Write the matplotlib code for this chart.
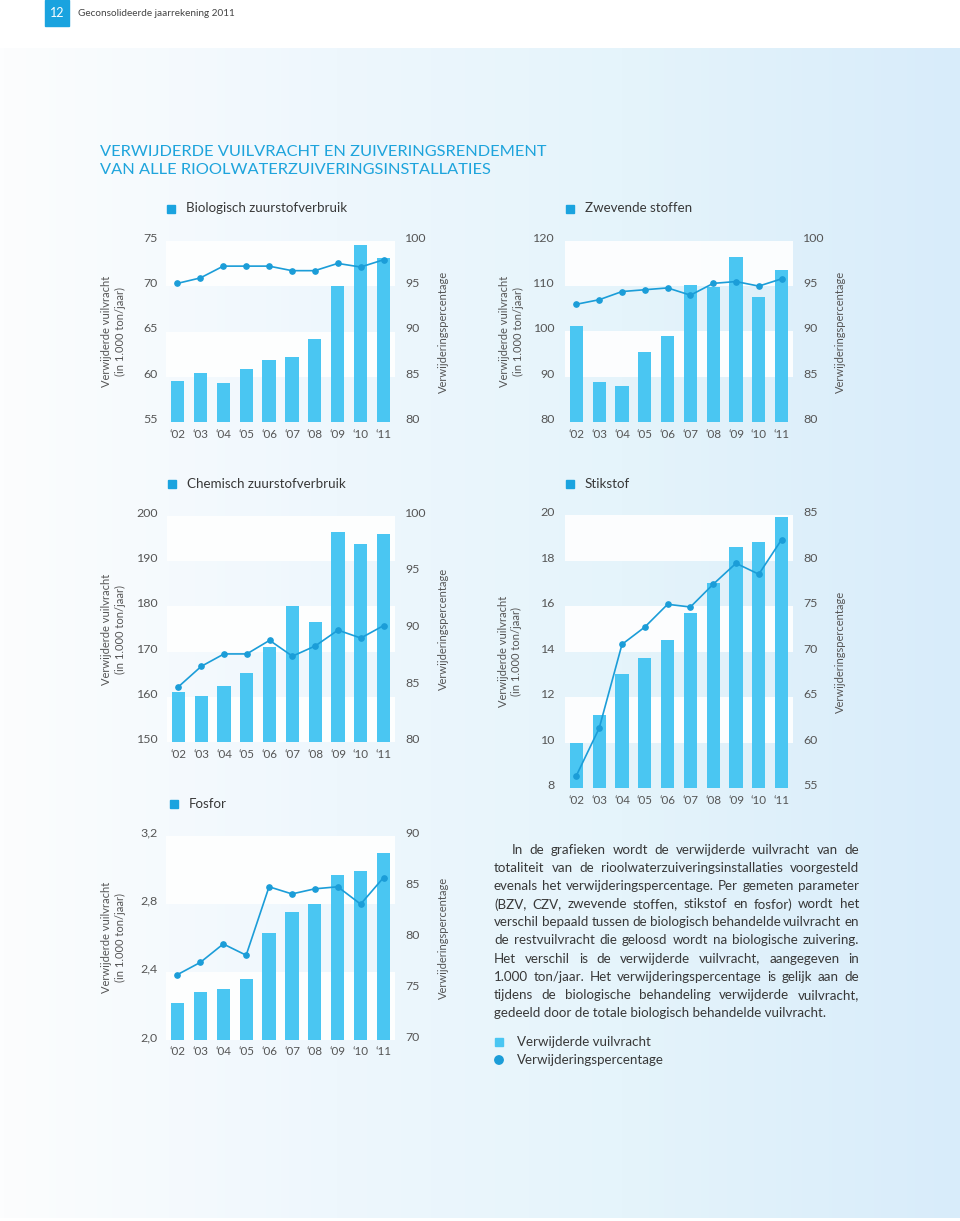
import numpy as np
import matplotlib
matplotlib.use("Agg")
import matplotlib.pyplot as plt
from matplotlib.colors import LinearSegmentedColormap
from matplotlib.patches import Rectangle, Circle
from matplotlib.transforms import ScaledTranslation

plt.rcParams['font.family'] = ['Lato', 'DejaVu Sans']

# ---------------------- DATA ------------------------

years = ["‘02", "‘03", "‘04", "‘05", "‘06", "‘07", "‘08", "‘09", "‘10", "‘11"]

# verwijderde vuilvracht (1.000 ton/jaar) and verwijderingspercentage (%)
bzv_vracht = [59.5, 60.4, 59.3, 60.9, 61.9, 62.2, 64.2, 70.0, 74.5, 73.1]
bzv_pct    = [95.3, 95.9, 97.2, 97.2, 97.2, 96.7, 96.7, 97.5, 97.1, 97.9]

zs_vracht  = [101.2, 88.9, 88.1, 95.4, 98.9, 110.2, 109.9, 116.4, 107.7, 113.5]
zs_pct     = [93.0, 93.5, 94.4, 94.6, 94.8, 94.0, 95.3, 95.5, 95.0, 95.8]

czv_vracht = [161.0, 160.3, 162.4, 165.3, 171.1, 180.1, 176.5, 196.5, 193.8, 196.0]
czv_pct    = [84.9, 86.7, 87.8, 87.8, 89.0, 87.6, 88.5, 89.9, 89.2, 90.3]

n_vracht   = [10.0, 11.2, 13.0, 13.7, 14.5, 15.7, 17.0, 18.6, 18.8, 19.9]
n_pct      = [56.4, 61.6, 70.8, 72.7, 75.2, 74.9, 77.4, 79.7, 78.5, 82.3]

p_vracht   = [2.215, 2.28, 2.30, 2.36, 2.63, 2.75, 2.80, 2.97, 2.99, 3.10]
p_pct      = [76.4, 77.6, 79.4, 78.3, 85.0, 84.3, 84.8, 85.0, 83.3, 85.9]

# axis ticks per chart
bzv_left,  bzv_right  = [55, 60, 65, 70, 75], [80, 85, 90, 95, 100]
zs_left,   zs_right   = [80, 90, 100, 110, 120], [80, 85, 90, 95, 100]
czv_left,  czv_right  = [150, 160, 170, 180, 190, 200], [80, 85, 90, 95, 100]
n_left,    n_right    = [8, 10, 12, 14, 16, 18, 20], [55, 60, 65, 70, 75, 80, 85]
p_left,    p_right    = [2.0, 2.4, 2.8, 3.2], [70, 75, 80, 85, 90]
p_left_labels = ["2,0", "2,4", "2,8", "3,2"]

paragraph = [
    "In de grafieken wordt de verwijderde vuilvracht van de",
    "totaliteit van de rioolwaterzuiveringsinstallaties voorgesteld",
    "evenals het verwijderingspercentage. Per gemeten parameter",
    "(BZV, CZV, zwevende stoffen, stikstof en fosfor) wordt het",
    "verschil bepaald tussen de biologisch behandelde vuilvracht en",
    "de restvuilvracht die geloosd wordt na biologische zuivering.",
    "Het verschil is de verwijderde vuilvracht, aangegeven in",
    "1.000 ton/jaar. Het verwijderingspercentage is gelijk aan de",
    "tijdens de biologische behandeling verwijderde vuilvracht,",
    "gedeeld door de totale biologisch behandelde vuilvracht.",
]

# ---------------------- STYLE ------------------------

BAR = '#4ac6f2'
LINE = '#1b9dd8'
MARK = '#1aa3df'
TICK = '#555555'
TEXT = '#383838'
TITLE = '#1ea4dc'

W, H = 960, 1221
fig = plt.figure(figsize=(W / 100, H / 100), dpi=100)
renderer = fig.canvas.get_renderer()

# page background in pixel coordinates
bg = fig.add_axes([0, 0, 1, 1])
bg.set_zorder(-1)
grad = LinearSegmentedColormap.from_list(
    'page', [(0, '#fcfdfe'), (0.35, '#eef7fd'), (0.65, '#e5f4fb'), (1, '#d8ecfa')])
bg.imshow(np.linspace(0, 1, 256)[None, :], cmap=grad, extent=[0, W, 1218, 48], aspect='auto')
bg.set_xlim(0, W)
bg.set_ylim(H, 0)
bg.axis('off')


def fit_size(s, width, **kw):
    t = bg.text(0, 0, s, fontsize=10, **kw)
    w = t.get_window_extent(renderer).width
    t.remove()
    return 10 * width / w


# ---------------------- HEADER + TITLE ------------------------

bg.add_patch(Rectangle((45, 0), 24, 26, color=MARK))
bg.text(57, 13, '12', color='white', ha='center', va='center', fontsize=9)
hs = fit_size('Geconsolideerde jaarrekening 2011', 157)
bg.text(78, 13, 'Geconsolideerde jaarrekening 2011', color='#444444', va='center', fontsize=hs)

ts = fit_size('VERWIJDERDE VUILVRACHT EN ZUIVERINGSRENDEMENT', 443)
bg.text(100, 152.5, 'VERWIJDERDE VUILVRACHT EN ZUIVERINGSRENDEMENT', color=TITLE,
        va='center', fontsize=ts)
bg.text(100, 170.5, 'VAN ALLE RIOOLWATERZUIVERINGSINSTALLATIES', color=TITLE,
        va='center', fontsize=ts)

# ---------------------- CHARTS ------------------------

tick_size = fit_size('200', 21.5)
xtick_size = fit_size('‘02', 16)
lab_size = fit_size('Verwijderingspercentage', 122)
leg_size = fit_size('Biologisch zuurstofverbruik', 162)
up = ScaledTranslation(0, 3.5 / 100, fig.dpi_scale_trans)


def chart(box, vracht, pct, lticks, rticks, title, leg_xy, lab_x, rlab_x,
          lpad=8, llabels=None):
    x0, x1, ytop, ybot = box
    ax = fig.add_axes([x0 / W, 1 - ybot / H, (x1 - x0) / W, (ybot - ytop) / H])
    ax.set_facecolor('none')
    xs = np.arange(len(years))
    ax.set_xlim(-0.5, len(years) - 0.5)
    ax.set_ylim(lticks[0], lticks[-1])

    # alternating white bands, starting white at the top
    for i in range(len(lticks) - 1):
        if i % 2 == 0:
            ax.axhspan(lticks[-2 - i], lticks[-1 - i], color='white', alpha=0.9, lw=0, zorder=0)

    ax.bar(xs, vracht, width=0.58, color=BAR, zorder=2)
    ax.set_yticks(lticks)
    ax.set_yticklabels(llabels if llabels else [str(t) for t in lticks])
    ax.set_xticks(xs)
    ax.set_xticklabels(years)
    ax.tick_params(axis='y', length=0, pad=lpad * 0.72, labelsize=tick_size, labelcolor=TICK)
    ax.tick_params(axis='x', length=0, pad=4.5, labelsize=xtick_size, labelcolor=TICK)

    ax2 = ax.twinx()
    ax2.set_ylim(rticks[0], rticks[-1])
    ax2.plot(xs, pct, color=LINE, lw=1.2, marker='o', ms=3.8, zorder=3)
    ax2.set_yticks(rticks)
    ax2.tick_params(axis='y', length=0, pad=10 * 0.72, labelsize=tick_size, labelcolor=TICK)

    for a in (ax, ax2):
        for s in a.spines.values():
            s.set_visible(False)
    for lab in ax.get_yticklabels() + ax2.get_yticklabels():
        lab.set_transform(lab.get_transform() + up)

    # legend title above the chart
    lx, ly = leg_xy
    bg.add_patch(Rectangle((lx, ly - 3.5), 7.5, 7.5, color=MARK))
    bg.text(lx + 19, ly, title, color=TEXT, va='center', fontsize=leg_size)

    # axis titles
    yc = (ytop + ybot) / 2
    bg.text(lab_x, yc, 'Verwijderde vuilvracht\n(in 1.000 ton/jaar)', rotation=90,
            ha='center', va='center', color=TICK, fontsize=lab_size, linespacing=1.3,
            multialignment='center')
    bg.text(rlab_x, yc, 'Verwijderingspercentage', rotation=90, ha='center', va='center',
            color=TICK, fontsize=lab_size)


chart((166, 395, 240.7, 422.3), bzv_vracht, bzv_pct, bzv_left, bzv_right,
      'Biologisch zuurstofverbruik', (167, 208.5), 113.5, 443)
chart((565, 793, 240.7, 422.3), zs_vracht, zs_pct, zs_left, zs_right,
      'Zwevende stoffen', (566, 208.5), 511.5, 840, lpad=10)
chart((167, 395, 515.7, 742.3), czv_vracht, czv_pct, czv_left, czv_right,
      'Chemisch zuurstofverbruik', (168, 483.5), 113.5, 443, lpad=8.7)
chart((565, 793, 515, 788.3), n_vracht, n_pct, n_left, n_right,
      'Stikstof', (566, 483.5), 510, 840, lpad=10)
chart((166, 395, 835.7, 1040), p_vracht, p_pct, p_left, p_right,
      'Fosfor', (170, 803.5), 113.5, 443, lpad=8.3, llabels=p_left_labels)

# ---------------------- EXPLANATION TEXT ------------------------

ps = fit_size(paragraph[-1], 334)
left, right = 494, 859
for i, line in enumerate(paragraph):
    y = 850 + 18.1 * i
    x_start = 512 if i == 0 else left
    if i == len(paragraph) - 1:
        bg.text(x_start, y, line, color=TEXT, va='center', fontsize=ps)
        continue
    words = line.split()
    objs = [bg.text(0, y, w, color=TEXT, va='center', fontsize=ps) for w in words]
    widths = [o.get_window_extent(renderer).width for o in objs]
    gap = (right - x_start - sum(widths)) / (len(words) - 1)
    x = x_start
    for o, w in zip(objs, widths):
        o.set_x(x)
        x += w + gap

bg.add_patch(Rectangle((495, 1037.5), 8, 8, color=BAR))
bg.text(517, 1041.5, 'Verwijderde vuilvracht', color=TEXT, va='center', fontsize=ps)
bg.add_patch(Circle((499, 1060), 4.2, color=LINE))
bg.text(517, 1060, 'Verwijderingspercentage', color=TEXT, va='center', fontsize=ps)

fig.savefig('out.png', dpi=100)
